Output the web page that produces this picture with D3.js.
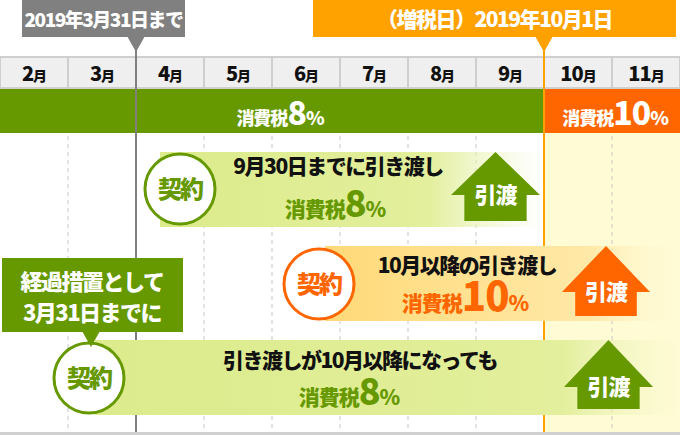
<!DOCTYPE html><html><head><meta charset="utf-8"><script src="https://cdn.jsdelivr.net/npm/d3@7"></script>
<style>body{margin:0}svg{display:block;font-family:"Noto Sans CJK JP","Noto Sans CJK SC",sans-serif;font-weight:900}</style></head><body><svg id="c" width="680" height="435"></svg>
<script>
const months=["2月","3月","4月","5月","6月","7月","8月","9月","10月","11月"];
const rateBands=[{from:"2月",to:"9月",label:"消費税",rate:"8%",color:"#669900"},{from:"10月",to:"11月",label:"消費税",rate:"10%",color:"#ff6600"}];
const markers=[{month:"4月",text:"2019年3月31日まで",color:"#808080"},{month:"10月",text:"（増税日）2019年10月1日",color:"#ffa200"}];
const rows=[{contract:"4月",delivery:"9月",line1:"9月30日までに引き渡し",rate:"8%",kind:"g"},
{contract:"6月",delivery:"10月",line1:"10月以降の引き渡し",rate:"10%",kind:"o"},
{contract:"3月",delivery:"10月",line1:"引き渡しが10月以降になっても",rate:"8%",kind:"g"}];
const svg=d3.select("#c");
const x=d3.scaleBand().domain(months).range([0,680]);
const bw=x.bandwidth();
const defs=svg.append("defs");
function grad(id,stops){const g=defs.append("linearGradient").attr("id",id);stops.forEach(s=>g.append("stop").attr("offset",s[0]).attr("stop-color",s[1]).attr("stop-opacity",s[2]));}
grad("g1",[["0","#dceb8c",1],["0.7","#e3ef9c",1],["1","#eef5c8",0]]);
grad("o1",[["0","#ffd978",1],["0.75","#ffe9a8",1],["1","#fff8d8",0]]);
grad("g3",[["0","#dceb8c",1],["0.8","#e3ef9c",1],["1","#eef5c8",0]]);
svg.append("rect").attr("x",x("10月")).attr("y",132).attr("width",680-x("10月")).attr("height",301).attr("fill","#fffbd4");
svg.selectAll(".h").data(months).join("rect").attr("x",d=>x(d)+1).attr("y",58).attr("width",bw-2).attr("height",30).attr("fill","#efefef");
svg.append("rect").attr("x",0).attr("y",57).attr("width",680).attr("height",31).attr("fill","none").attr("stroke","#cfcfcf").attr("stroke-width",2);
svg.selectAll(".hl").data(months.slice(1)).join("line").attr("x1",d=>x(d)).attr("x2",d=>x(d)).attr("y1",57).attr("y2",88).attr("stroke","#cfcfcf").attr("stroke-width",2);
svg.selectAll(".ht").data(months).join("text").attr("x",d=>x(d)+bw/2).attr("y",81).attr("text-anchor","middle").attr("font-size",20).attr("letter-spacing",-1).attr("fill","#111").each(function(d){const t=d3.select(this);t.append("tspan").text(d.replace("月",""));t.append("tspan").attr("font-size",14).text("月");});
svg.selectAll(".dl").data(months.slice(1).filter(m=>m!=="4月"&&m!=="10月")).join("line").attr("x1",d=>x(d)).attr("x2",d=>x(d)).attr("y1",88).attr("y2",433).attr("stroke","#c8c8c8").attr("stroke-dasharray","4,4");
rateBands.forEach(b=>{const x0=x(b.from),x1=x(b.to)+bw;svg.append("rect").attr("x",x0).attr("y",89).attr("width",x1-x0).attr("height",44).attr("fill",b.color);
const t=svg.append("text").attr("x",b.rate==="8%"?(x0+x1)/2+8:(x0+x1)/2+3).attr("y",125).attr("text-anchor","middle").attr("fill","#fff").attr("letter-spacing",-1);
t.append("tspan").attr("font-size",18).text(b.label);t.append("tspan").attr("font-size",32).text(b.rate.replace("%",""));t.append("tspan").attr("font-size",19).text("%");});
markers.forEach((m,i)=>{const mx=x(m.month);svg.append("line").attr("x1",mx).attr("x2",mx).attr("y1",40).attr("y2",433).attr("stroke",m.color).attr("stroke-width",2);
const bx0=i?313:22,bx1=i?676:185;svg.append("rect").attr("x",bx0).attr("y",0).attr("width",bx1-bx0).attr("height",37).attr("fill",m.color);
svg.append("path").attr("d",`M${mx-9},36L${mx},52L${mx+9},36Z`).attr("fill",m.color);
svg.append("text").attr("x",(bx0+bx1)/2).attr("y",27).attr("text-anchor","middle").attr("fill","#fff").attr("font-size",i?21:19).attr("letter-spacing",-1.5).text(m.text);});
svg.append("rect").attr("x",0).attr("y",432).attr("width",680).attr("height",3).attr("fill","#d0d0d0");
const geo=[{bar:[160,545],y:[152,227],c:[180,189],arrow:[451,540,152,195,221],t1:[338,174],t2:[335,217],fill:"url(#g1)"},
{bar:[325,680],y:[246,321],c:[319,284],arrow:[562,650,246,292,316],t1:[467,273],t2:[465,311],fill:"url(#o1)"},
{bar:[95,680],y:[340,415],c:[89,378],arrow:[564,653,340,387,409],t1:[360,368],t2:[349,405],fill:"url(#g3)"}];
rows.forEach((r,i)=>{const g=geo[i];const col=r.kind==="g"?"#669900":"#ff6600";
svg.append("rect").attr("x",g.bar[0]).attr("y",g.y[0]).attr("width",g.bar[1]-g.bar[0]).attr("height",g.y[1]-g.y[0]).attr("fill",g.fill);
const[a0,a1,ty,sy,by]=g.arrow;const am=(a0+a1)/2,sw=(a1-a0)*0.35;
svg.append("path").attr("d",`M${am},${ty}L${a1},${sy}L${am+sw},${sy}L${am+sw},${by}L${am-sw},${by}L${am-sw},${sy}L${a0},${sy}Z`).attr("fill",col);
svg.append("text").attr("x",am).attr("y",sy+8).attr("text-anchor","middle").attr("fill","#fff").attr("font-size",22).attr("letter-spacing",-1).text("引渡");
svg.append("circle").attr("cx",g.c[0]).attr("cy",g.c[1]).attr("r",35).attr("fill","#fff").attr("stroke",col).attr("stroke-width",3);
svg.append("text").attr("x",g.c[0]).attr("y",g.c[1]+9).attr("text-anchor","middle").attr("fill",col).attr("font-size",24).attr("letter-spacing",-2).text("契約");
svg.append("text").attr("x",g.t1[0]).attr("y",g.t1[1]).attr("text-anchor","middle").attr("fill","#111").attr("font-size",21).attr("letter-spacing",-1.5).text(r.line1);
const t=svg.append("text").attr("x",g.t2[0]).attr("y",g.t2[1]).attr("text-anchor","middle").attr("fill",col).attr("letter-spacing",-1);
t.append("tspan").attr("font-size",21).text("消費税");t.append("tspan").attr("font-size",r.rate==="10%"?40:36).text(r.rate.replace("%",""));t.append("tspan").attr("font-size",21).text("%");});
svg.append("rect").attr("x",2).attr("y",258).attr("width",181).attr("height",74).attr("fill","#669900");
svg.append("path").attr("d","M82,331L91,347L100,331Z").attr("fill","#669900");
svg.append("text").attr("x",92).attr("y",290).attr("text-anchor","middle").attr("fill","#fff").attr("font-size",22).attr("letter-spacing",-1.5).text("経過措置として");
svg.append("text").attr("x",92).attr("y",321).attr("text-anchor","middle").attr("fill","#fff").attr("font-size",22).attr("letter-spacing",-1.5).text("3月31日までに");
</script></body></html>
